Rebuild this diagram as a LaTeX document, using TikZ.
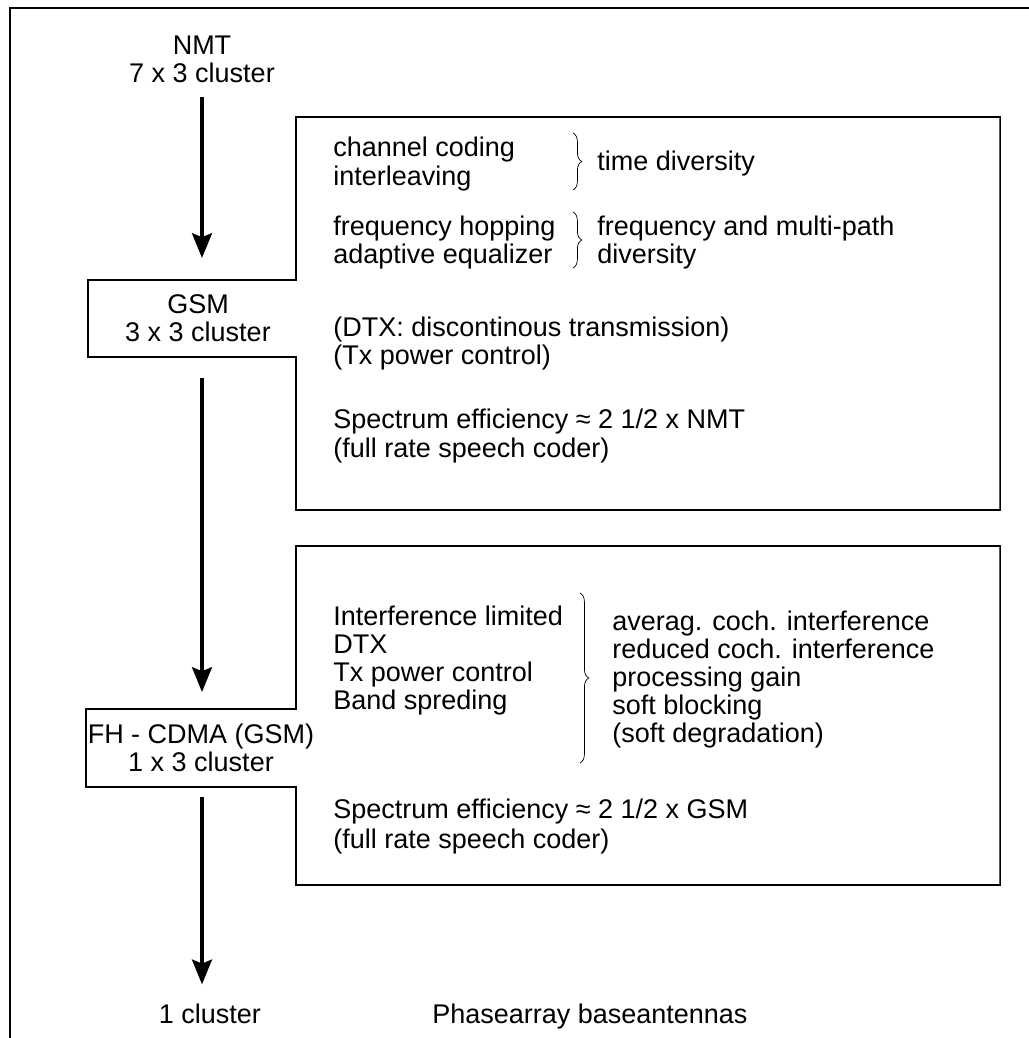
\documentclass[tikz,border=0pt]{standalone}
\usepackage{fontspec}
\setmainfont{Liberation Sans}
\usetikzlibrary{arrows.meta,decorations.pathreplacing}
\tikzset{
  outerline/.style={draw=black,line width=1.7pt},
  outline/.style={draw=black,line width=1.2pt,line join=miter},
  region/.style={inner sep=0pt,outer sep=0pt},
  tabtext/.style={align=center,inner sep=0pt},
  txt/.style={anchor=base west,inner sep=0pt},
  flowarrow/.style={-{Stealth[length=0.62cm,width=0.5cm,inset=0.1cm]},line width=2.2pt},
  curly/.style={decorate,decoration={brace,amplitude=0.22cm},line width=0.5pt}
}

\begin{document}
\begin{tikzpicture}[x=0.025cm,y=-0.025cm,font=\fontsize{19.2}{19.9}\selectfont]
  \useasboundingbox (0,0) rectangle (1028,1038);
  \draw[outerline] (1040,8) -- (10,8) -- (10,1050);

  \node[tabtext] (nmt) at (202,59) {NMT\\7 x 3 cluster};

  \node[region,minimum width=5.2cm,minimum height=1.925cm] (gsm) at (192,318.5) {};
  \node[tabtext] (gsmname) at ([xshift=0.15cm]gsm) {GSM\\3 x 3 cluster};
  \node[region,minimum width=17.6cm,minimum height=9.825cm] (gsmpanel) at (648,313.5) {};
  \draw[outline] (gsm.north east) -- (gsm.north west) -- (gsm.south west) -- (gsm.south east)
    -- (gsmpanel.south west) -- (gsmpanel.south east) -- (gsmpanel.north east) -- (gsmpanel.north west) -- cycle;

  \node[region,minimum width=5.25cm,minimum height=1.95cm] (fh) at (191,748) {};
  \node[tabtext] (fhname) at ([xshift=0.25cm]fh) {FH - CDMA (GSM)\\1 x 3 cluster};
  \node[region,minimum width=17.6cm,minimum height=8.475cm] (fhpanel) at (648,715.5) {};
  \draw[outline] (fh.north east) -- (fh.north west) -- (fh.south west) -- (fh.south east)
    -- (fhpanel.south west) -- (fhpanel.south east) -- (fhpanel.north east) -- (fhpanel.north west) -- cycle;

  \node[anchor=base,inner sep=0pt] (one) at (210,1023) {1 cluster};
  \node[txt] (phase) at (432,1023) {Phasearray baseantennas};

  \draw[flowarrow,shorten <=0.35cm,shorten >=0.55cm] (nmt.south) -- (nmt.south |- gsm.north);
  \draw[flowarrow,shorten <=0.525cm,shorten >=0.425cm] (gsm.south -| nmt.south) -- (fh.north -| nmt.south);
  \draw[flowarrow,shorten <=0.25cm,shorten >=0.47cm] (fh.south -| nmt.south) -- (one.north -| nmt.south);

  % GSM measures
  \node[txt] (cc) at (333,156) {channel coding};
  \node[txt] (il) at (333,185) {interleaving};
  \node[txt] (td) at (597,170) {time diversity};
  \node[txt] (fq) at (333,235) {frequency hopping};
  \node[txt] (ae) at (333,263) {adaptive equalizer};
  \node[txt] (fd) at (597,235) {frequency and multi-path};
  \node[txt] (dv) at (597,263) {diversity};
  \node[txt] (dtx) at (333,336) {(DTX: discontinous transmission)};
  \node[txt] (txp) at (333,364) {(Tx power control)};
  \node[txt] (se1) at (333,428) {Spectrum efficiency ≈ 2 1/2 x NMT};
  \node[txt] (fr1) at (333,457) {(full rate speech coder)};
  \draw[curly] (573,133) -- (573,190);
  \draw[curly] (573,212) -- (573,268);

  % FH-CDMA measures
  \foreach \ttl [count=\i] in {Interference limited,DTX,Tx power control,Band spreding}
    \node[txt] (lm\i) at (333,597+28*\i) {\ttl};
  \foreach \ttl [count=\i] in {averag. coch. interference,reduced coch. interference,processing gain,soft blocking,(soft degradation)}
    \node[txt] (ef\i) at (612,602+28*\i) {\ttl};
  \draw[curly] (580,593) -- (580,763);
  \node[txt] (se2) at (333,818) {Spectrum efficiency ≈ 2 1/2 x GSM};
  \node[txt] (fr2) at (333,848) {(full rate speech coder)};
\end{tikzpicture}
\end{document}
